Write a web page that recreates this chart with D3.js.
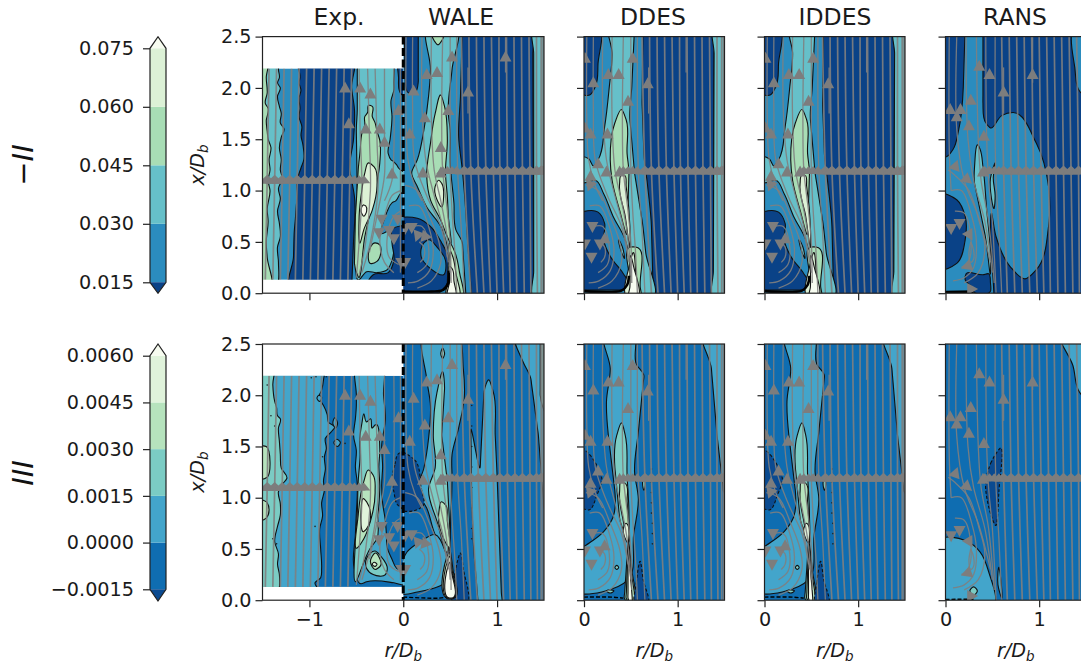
<!DOCTYPE html>
<html>
<head>
<meta charset="utf-8">
<script src="https://cdn.jsdelivr.net/npm/d3@7"></script>
<style>
  html, body { margin: 0; background: #fff; }
  svg { display: block; font-family: "DejaVu Sans", sans-serif; }
  .field { filter: blur(0.4px); }
</style>
</head>
<body>
<svg id="chart" width="1081" height="668"></svg>
<script>
// colour levels, index 0 is the "under" colour, last index the "over" colour
const coloursTop = ['#0a4287', '#2b8cbe', '#66c0c9', '#a8ddb5', '#dcf1d6', '#f7fcf0']
const coloursBottom = ['#0a4a90', '#0f6db1', '#43a5cb', '#7bccc4', '#b6e3bd', '#e0f3db', '#f7fcf0']
const levelsTop = [0.015, 0.03, 0.045, 0.06, 0.075]
const levelsBottom = [-0.0015, 0, 0.0015, 0.003, 0.0045, 0.006]
const tickLabelsTop = ['0.015', '0.030', '0.045', '0.060', '0.075']
const tickLabelsBottom = ['\u22120.0015', '0.0000', '0.0015', '0.0030', '0.0045', '0.0060']
const titles = ['Exp.', 'WALE', 'DDES', 'IDDES', 'RANS']
const xTicks = [0, 0.5, 1, 1.5, 2, 2.5]
const xTickLabels = ['0.0', '0.5', '1.0', '1.5', '2.0', '2.5']

// contour regions: [level, [[r, x], ...]]
const expTop = [
  [2, [[-1.6,2.3],[-1.31,2.3],[-1.33,2.18],[-1.32,2.1],[-1.34,2.05],[-1.31,2.0],[-1.34,1.92],[-1.32,1.82],[-1.3,1.75],[-1.31,1.66],[-1.27,1.6],[-1.3,1.52],[-1.32,1.42],[-1.3,1.3],[-1.31,1.2],[-1.29,1.12],[-1.33,1.02],[-1.31,.92],[-1.34,.8],[-1.32,.68],[-1.31,.55],[-1.34,.45],[-1.33,.3],[-1.36,.05],[-1.6,.05]]],
  [3, [[-1.6,2.3],[-1.44,2.3],[-1.46,2.1],[-1.45,1.95],[-1.47,1.85],[-1.44,1.8],[-1.46,1.68],[-1.45,1.58],[-1.44,1.5],[-1.41,1.42],[-1.43,1.3],[-1.42,1.2],[-1.44,1.1],[-1.42,1.0],[-1.45,.82],[-1.44,.7],[-1.46,.5],[-1.45,.35],[-1.42,.05],[-1.6,.05]]],
  [0, [[-1.12,2.3],[-1.1,2.1],[-1.11,2.05],[-1.09,1.98],[-1.11,1.9],[-1.1,1.8],[-1.11,1.72],[-1.08,1.62],[-1.09,1.54],[-1.07,1.45],[-1.06,1.3],[-1.09,1.22],[-1.12,1.14],[-1.135,1.07],[-1.13,.95],[-1.14,.85],[-1.15,.72],[-1.16,.62],[-1.17,.35],[-1.19,.05],[-.55,.05],[-.53,.5],[-.52,.94],[-.55,1.1],[-.57,1.2],[-.53,1.5],[-.52,1.79],[-.55,2.0],[-.55,2.3]]],
  [2, [[-.49,2.3],[-.49,1.79],[-.5,1.59],[-.49,.94],[-.5,.4],[-.47,.13],[-.39,.21],[-.28,.2],[-.17,.23],[-.12,.32],[-.1,.49],[-.12,.62],[-.23,.58],[-.19,.75],[-.17,.8],[-.12,.88],[-.08,.9],[-.03,.97],[.06,1.0],[.06,1.14],[-.05,1.22],[-.07,1.25],[-.1,1.28],[-.13,1.3],[-.16,1.36],[-.14,1.5],[-.12,1.72],[-.13,1.88],[-.1,1.98],[-.1,2.05],[-.12,2.3]]],
  [3, [[-.37,1.83],[-.38,1.76],[-.41,1.72],[-.41,1.64],[-.44,1.56],[-.46,1.38],[-.48,1.2],[-.51,.75],[-.52,.29],[-.48,.16],[-.41,.55],[-.33,.88],[-.25,1.27],[-.25,1.49],[-.28,1.58],[-.3,1.66],[-.33,1.72],[-.33,1.82]]],
  [4, [[-.37,1.27],[-.41,1.17],[-.44,1.01],[-.47,.75],[-.46,.49],[-.42,.62],[-.33,.81],[-.28,1.04],[-.31,1.23]]],
  [5, [[-.42,.86],[-.45,.8],[-.42,.75],[-.39,.8],[-.4,.85]]],
  [3, [[-.3,.49],[-.37,.39],[-.35,.29],[-.28,.31],[-.24,.39],[-.25,.47]]],
  [0, [[-.12,.62],[.05,.64],[.05,.05],[-.37,.05],[-.36,.14],[-.32,.18],[-.16,.2],[-.1,.32],[-.12,.49]]],
  [0, [[-.03,2.3],[.04,2.3],[.04,1.9],[-.03,1.95],[-.05,2.1]]]
]
const waleTop = [
  [0, [[.01,2.6],[.16,2.6],[.16,2.06],[.12,1.95],[.06,1.95],[.02,2.1]]],
  [2, [[.27,2.6],[.29,2.18],[.27,1.92],[.22,1.59],[.15,1.3],[.09,1.17],[.15,1.04],[.25,.84],[.4,.65],[.48,.42],[.6,-.05],[.67,-.05],[.63,.49],[.56,.62],[.54,.88],[.5,1.27],[.5,1.59],[.48,1.75],[.52,2.18],[.56,2.6]]],
  [3, [[.3,2.6],[.33,2.46],[.37,2.42],[.41,2.46],[.44,2.6]]],
  [0, [[.63,2.6],[.61,1.92],[.59,1.53],[.63,1.2],[.66,.88],[.69,.45],[.73,-.05],[1.39,-.05],[1.38,2.6]]],
  [2, [[1.39,2.6],[1.6,2.6],[1.6,-.05],[1.39,-.05]]],
  [3, [[.4,1.93],[.34,1.75],[.29,1.46],[.25,1.14],[.29,.91],[.4,.71],[.47,.55],[.5,.49],[.48,.75],[.47,.94],[.45,1.17],[.47,1.49],[.44,1.82]]],
  [4, [[.38,1.1],[.34,1.04],[.36,.91],[.41,.84],[.43,.94],[.41,1.07]]],
  [0, [[-.05,.71],[.15,.73],[.29,.65],[.41,.49],[.48,.36],[.49,.13],[.4,.015],[-.05,.015]]],
  [1, [[.22,.49],[.19,.36],[.29,.24],[.43,.18],[.45,.32],[.36,.45],[.27,.52]]],
  [3, [[.5,.49],[.48,.3],[.47,.1],[.47,-.05],[.62,-.05],[.6,.2],[.55,.4]]],
  [4, [[.51,.4],[.495,.2],[.48,-.05],[.58,-.05],[.56,.2],[.53,.35]]],
  [5, [[.5,.26],[.495,.12],[.48,-.05],[.55,-.05],[.54,.12],[.52,.24]]]
]
const ddesTop = [
  [0, [[.63,2.6],[.62,1.85],[.64,1.36],[.68,1.04],[.72,.65],[.74,-.05],[1.38,-.05],[1.39,2.6]]],
  [2, [[1.39,2.6],[1.6,2.6],[1.6,-.05],[1.38,-.05]]],
  [0, [[-.05,2.6],[.15,2.6],[.15,2.24],[.12,2.01],[.06,1.93],[-.05,1.96]]],
  [2, [[.27,2.6],[.3,2.34],[.27,2.01],[.22,1.62],[.15,1.3],[.1,1.24],[.05,1.31],[-.05,1.33],[-.05,1.07],[.03,1.08],[.12,1.1],[.21,.97],[.31,.75],[.44,.52],[.47,.42],[.49,.2],[.58,-.05],[.72,-.05],[.66,.39],[.62,.71],[.54,1.17],[.49,1.69],[.51,2.01],[.54,2.6]]],
  [3, [[.4,1.79],[.33,1.66],[.28,1.3],[.3,1.1],[.38,.81],[.46,.58],[.48,1.17],[.46,1.36],[.45,1.69]]],
  [4, [[.4,1.15],[.38,1.07],[.44,.75],[.49,.45],[.49,.65],[.45,1.04],[.43,1.15]]],
  [0, [[-.05,.76],[.15,.79],[.22,.68],[.21,.52],[.28,.36],[.42,.19],[.47,.11],[.44,.03],[-.05,.03]]],
  [2, [[.37,.52],[.4,.4],[.43,.34],[.41,.45]]],
  [3, [[.5,.45],[.55,.45],[.6,.06],[.61,-.05],[.47,-.05],[.48,.16]]],
  [4, [[.52,.39],[.56,.06],[.57,-.05],[.48,-.05],[.49,.29]]],
  [5, [[.5,.36],[.49,.06],[.48,-.05],[.55,-.05],[.53,.26]]]
]
const iddesTop = ddesTop
const ransTop = [
  [0, [[-.05,2.6],[.21,2.6],[.19,2.01],[.14,1.59],[.08,1.4],[.01,1.33],[-.05,1.33]]],
  [0, [[.4,2.6],[.4,1.85],[.43,1.66],[.48,1.61],[.6,1.73],[.72,1.76],[.97,1.46],[1.1,1.04],[1.1,.65],[.97,.23],[.85,.14],[.69,.26],[.54,.55],[.49,.78],[.48,.58],[.52,-.05],[1.6,-.05],[1.6,2.6]]],
  [1, [[1.4,2.6],[1.38,2.2],[1.45,1.95],[1.6,1.9],[1.6,2.6]]],
  [2, [[.35,1.44],[.31,1.23],[.31,1.07],[.42,.58],[.48,.19],[.48,.39],[.44,.81],[.4,1.23],[.37,1.4]]],
  [2, [[.53,1.27],[.48,1.12],[.52,.83],[.53,.95],[.51,1.12]]],
  [0, [[-.05,.96],[.12,.91],[.21,.75],[.21,.52],[.12,.29],[-.05,.24]]],
  [0, [[.22,.19],[.4,.18],[.46,.19],[.48,.1],[.48,.02],[.3,.015],[.28,.06],[.21,.13]]]
]
const expBottom = [
  [2, [[-1.6,2.3],[-.85,2.3],[-.85,2.15],[-.87,2.05],[-.9,1.98],[-.87,1.93],[-.85,1.9],[-.81,1.81],[-.8,1.74],[-.73,1.69],[-.77,1.64],[-.83,1.58],[-.82,1.48],[-.84,1.4],[-.83,1.28],[-.85,1.16],[-.84,1.08],[-.87,.95],[-.86,.82],[-.89,.7],[-.88,.5],[-.87,.31],[-.88,.22],[-.94,.17],[-.85,.05],[-1.6,.05]]],
  [3, [[-1.6,2.3],[-1.38,2.3],[-1.39,2.1],[-1.37,1.94],[-1.35,1.88],[-1.34,1.8],[-1.31,1.77],[-1.33,1.68],[-1.32,1.55],[-1.31,1.42],[-1.3,1.29],[-1.24,1.19],[-1.28,1.14],[-1.33,1.06],[-1.31,.94],[-1.31,.83],[-1.34,.72],[-1.37,.57],[-1.33,.45],[-1.34,.35],[-1.32,.25],[-1.35,.05],[-1.6,.05]]],
  [4, [[-1.6,1.48],[-1.46,1.5],[-1.42,1.35],[-1.45,1.2],[-1.6,1.18]]],
  [4, [[-1.6,.98],[-1.45,.95],[-1.43,.88],[-1.46,.8],[-1.6,.78]]],
  [2, [[-.49,2.3],[-.5,2.0],[-.5,1.9],[-.51,1.77],[-.53,1.61],[-.5,1.46],[-.51,1.3],[-.49,1.14],[-.49,1.03],[-.5,.85],[-.51,.64],[-.52,.3],[-.45,.16],[-.39,.18],[-.1,.17],[.02,.15],[.02,.28],[-.07,.31],[-.12,.4],[-.17,.51],[-.18,.65],[-.19,.77],[-.22,.95],[-.23,1.12],[-.22,1.3],[-.23,1.51],[-.19,1.77],[-.21,2.0],[-.23,2.3]]],
  [3, [[-.42,1.82],[-.44,1.73],[-.46,1.61],[-.46,1.4],[-.48,1.16],[-.49,.85],[-.51,.57],[-.51,.18],[-.35,.51],[-.28,.6],[-.27,.8],[-.25,1.12],[-.26,1.3],[-.25,1.48],[-.3,1.71],[-.33,1.68],[-.35,1.77],[-.39,1.74]]],
  [4, [[-.37,1.27],[-.42,1.16],[-.48,.83],[-.49,.51],[-.42,.6],[-.35,.77],[-.3,1.06],[-.32,1.22]]],
  [5, [[-.42,.99],[-.45,.86],[-.42,.67],[-.37,.73],[-.35,.86],[-.39,.96]]],
  [3, [[-.3,.48],[-.39,.41],[-.39,.31],[-.32,.25],[-.19,.25],[-.17,.3],[-.24,.43]]],
  [4, [[-.3,.46],[-.35,.38],[-.3,.3],[-.24,.34]]],
  [5, [[-.31,.37],[-.33,.35],[-.3,.33],[-.28,.35]]],
  [2, [[-.9,2.0],[-.92,1.97],[-.89,1.94],[-.87,1.98]]],
  [2, [[-.71,1.57],[-.74,1.54],[-.7,1.5],[-.67,1.54]]],
  [2, [[-.73,1.78],[-.75,1.72],[-.72,1.68],[-.7,1.73]]],
  [0, [[-.05,1.43],[-.09,1.32],[-.12,1.16],[-.1,1.06],[-.06,.93],[.05,.88],[.05,1.45]]]
]
const waleBottom = [
  [2, [[.23,2.6],[.25,2.16],[.29,1.9],[.27,1.58],[.22,1.29],[.15,1.06],[.25,.9],[.34,.64],[.45,.47],[.51,.9],[.52,1.19],[.52,1.42],[.59,1.68],[.65,1.97],[.64,2.26],[.57,2.6]]],
  [2, [[-.02,.34],[.04,.47],[.18,.57],[.34,.64],[.45,.47],[.47,.2],[.15,.08],[-.02,.06]]],
  [2, [[.72,1.66],[.82,1.3],[.86,2.03],[.91,2.15],[.96,2.03],[.98,1.61],[1.0,1.22],[1.05,-.05],[.8,-.05],[.75,.51],[.73,.96]]],
  [2, [[1.18,2.6],[1.28,2.32],[1.36,2.16],[1.44,1.61],[1.5,.9],[1.6,.85],[1.6,2.6]]],
  [3, [[1.46,2.6],[1.46,2.0],[1.6,1.7],[1.6,2.6]]],
  [3, [[.42,2.23],[.36,2.03],[.32,1.61],[.34,1.29],[.27,1.09],[.36,.77],[.47,.47],[.5,.64],[.47,1.16],[.41,1.61],[.44,2.06]]],
  [3, [[.42,2.46],[.4,2.4],[.42,2.36],[.44,2.4]]],
  [4, [[.41,.96],[.38,.86],[.43,.6],[.49,.51],[.47,.77],[.45,.93]]],
  [0, [[.61,.46],[.56,.31],[.57,-.05],[.65,-.05],[.64,.31]]],
  [0, [[-.05,1.44],[.12,1.37],[.19,1.1],[.21,.92],[.1,.87],[-.05,.9]]],
  [3, [[.49,.5],[.46,.02],[.54,.02],[.53,.3]]],
  [4, [[.495,.46],[.475,.02],[.53,.02],[.52,.3]]],
  [5, [[.5,.42],[.485,.02],[.52,.02],[.515,.3]]],
  [6, [[.503,.36],[.495,.02],[.512,.02],[.51,.3]]]
]
const ddesBottom = [
  [2, [[.22,2.6],[.28,2.26],[.24,1.94],[.26,1.61],[.33,1.06],[.31,.81],[.21,.67],[.06,.56],[-.05,.49],[-.05,.07],[.19,.08],[.47,.2],[.53,.64],[.58,.99],[.54,1.25],[.58,1.64],[.64,2.19],[.56,2.3],[.53,2.6]]],
  [2, [[1.27,2.6],[1.36,2.26],[1.42,1.61],[1.49,1.06],[1.6,1.0],[1.6,2.6]]],
  [3, [[.4,1.73],[.35,1.61],[.33,1.29],[.38,.8],[.44,.64],[.47,.57],[.48,.83],[.46,1.22],[.44,1.61]]],
  [4, [[.4,1.16],[.38,1.06],[.42,.77],[.47,.57],[.46,.96],[.44,1.14]]],
  [5, [[.45,.75],[.42,.7],[.47,.56],[.48,.67],[.47,.73]]],
  [3, [[.47,.56],[.43,.02],[.53,-.05],[.51,.3]]],
  [4, [[.47,.53],[.45,.02],[.52,-.05],[.5,.3]]],
  [6, [[.47,.5],[.47,.02],[.5,-.05],[.49,.3]]],
  [0, [[.6,.38],[.56,.18],[.56,-.05],[.67,-.05],[.63,.21]]],
  [0, [[-.05,1.5],[.06,1.42],[.15,1.29],[.19,1.19],[.14,1.03],[.05,.88],[-.05,.93]]],
  [3, [[.64,1.2],[.625,1.14],[.64,1.07],[.655,1.14]]],
  [3, [[.35,.34],[.33,.32],[.35,.3],[.37,.32]]],
  [3, [[.28,.1],[.24,.09],[.28,.07],[.32,.09]]]
]
const iddesBottom = ddesBottom
const ransBottom = [
  [2, [[-.05,.58],[.22,.58],[.37,.47],[.46,.28],[.49,-.05],[-.05,-.05]]],
  [2, [[1.22,2.6],[1.36,2.29],[1.43,2.03],[1.6,1.9],[1.6,2.6]]],
  [0, [[.58,1.48],[.49,1.35],[.43,1.16],[.54,.73],[.57,1.06]]],
  [3, [[.3,.13],[.26,.09],[.3,.05],[.34,.09]]],
  [2, [[.57,.32],[.56,.15],[.6,.02],[.59,.21]]]
]

// thick contours packed along the wall, as [[r, x], ...]
const wallsTop = [[], [[0,.015],[.3,.015],[.42,.03],[.48,.1],[.485,.22]], [[0,.02],[.4,.025],[.46,.08],[.48,.17]], [[0,.02],[.4,.025],[.46,.08],[.48,.17]], [[0,.01],[.3,.015]]]
const wallsBottom = [[], [[0,.03],[.38,.02],[.46,.03]], [[0,.03],[.3,.03],[.42,.02]], [[0,.03],[.3,.03],[.42,.02]], [[0,.008],[.3,.01]]]
const dotsExp = [[-.98,2.17],[-.93,2.18],[-.82,2.18],[-1.45,2.1],[-1.41,1.8],[-1.37,1.7],[-.62,1.53],[-.86,1.4],[-1.39,.6],[-.94,.72],[-1.35,.55]]
const dotsWale = [[.73,1.9],[.73,1.7],[.73,1.5],[.73,1.3],[.73,1.1],[.73,.9],[.73,.7],[.73,.6]]
const dotsDdes = [[.72,1.28],[.72,1.15],[.72,1.05],[.72,.95],[.72,.85],[.73,.75],[.73,.65],[.73,.55]]

// streamlines: straight ones as [r at top, r at middle, r at bottom]
const expLineX = [2.19, 1.11, 0.13]
const simLineX = [2.5, 1.2, 0]
const straightExp = [[-1.43,-1.45,-1.47],[-1.35,-1.37,-1.39],[-1.27,-1.29,-1.31],[-1.19,-1.21,-1.23],[-1.11,-1.13,-1.15],[-1.03,-1.05,-1.07],[-.95,-.97,-.99],[-.87,-.89,-.91],[-.79,-.81,-.83],[-.71,-.73,-.75],[-.63,-.65,-.67],[-.55,-.57,-.59]]
const straightSim = [[.62,.65,.72],[.7,.72,.79],[.78,.8,.86],[.86,.88,.93],[.94,.96,1.0],[1.02,1.03,1.07],[1.1,1.11,1.14],[1.18,1.19,1.21],[1.26,1.27,1.29],[1.34,1.35,1.36],[1.42,1.42,1.43],[1.47,1.47,1.47],[1.49,1.49,1.49]]
const straightRans = [[.6,.62,.66],[.68,.7,.74],[.76,.78,.82],[.84,.86,.9],[.92,.94,.98],[1.0,1.02,1.05],[1.08,1.1,1.12],[1.16,1.18,1.2],[1.24,1.26,1.28],[1.32,1.34,1.36],[1.4,1.42,1.43]]

// extra heads of the arrow band inside the jet, as r
const bandExp = [-.52, -.47, -.42]
const bandSim = [.42, .47, .52, .57]
const bandRans = [.42, .47, .52, .57]

// curved streamlines as [[r, x], ...]
const curvedExp = [
  [[-.47,2.19],[-.46,1.6],[-.44,1.0],[-.47,.5],[-.5,.15]],
  [[-.38,2.19],[-.36,1.5],[-.35,1.0],[-.4,.5],[-.47,.18]],
  [[-.3,2.19],[-.28,1.5],[-.27,1.0],[-.35,.5],[-.44,.2]],
  [[-.2,2.19],[-.2,1.5],[-.2,1.15],[-.27,.8],[-.36,.4]],
  [[-.1,2.19],[-.1,1.4],[-.12,1.1],[-.2,.9]],
  [[-.03,2.19],[-.03,1.1],[-.03,.2]],
  [[-.03,1.0],[-.12,.95],[-.2,.75],[-.25,.5],[-.2,.3],[-.1,.2]],
  [[-.03,.8],[-.1,.75],[-.17,.55],[-.15,.35],[-.05,.28]]
]
const curvedSim = [
  [[.03,2.5],[.03,1.7],[.05,1.3],[.12,1.05],[.2,.9]],
  [[.1,2.5],[.1,1.8],[.12,1.3],[.25,.95],[.4,.65],[.47,.35]],
  [[.2,2.5],[.2,1.8],[.24,1.3],[.33,.95],[.42,.65],[.48,.3]],
  [[.3,2.5],[.3,1.7],[.33,1.2],[.4,.9],[.46,.6],[.5,.2]],
  [[.42,2.5],[.41,1.7],[.42,1.2],[.47,.8],[.5,.5],[.51,.1]],
  [[.5,2.5],[.5,1.7],[.5,1.2],[.52,.8],[.55,.4],[.57,0]],
  [[.57,2.5],[.58,1.2],[.62,.6],[.65,0]],
  [[.02,1.05],[.15,1.0],[.28,.75],[.38,.5],[.4,.3],[.3,.12],[.15,.05]],
  [[.06,.85],[.17,.85],[.27,.65],[.32,.42],[.28,.22],[.16,.12],[.05,.1]],
  [[.1,.65],[.2,.65],[.27,.45],[.25,.28],[.15,.2]],
  [[.17,.5],[.22,.45],[.22,.35],[.18,.3]],
  [[.69,2.2],[.69,1.75]],
  [[1.09,2.5],[1.09,2.15]]
]
const curvedRans = [
  [[.04,2.5],[.04,1.4],[.06,1.0]],
  [[.12,2.5],[.12,1.6],[.2,1.1],[.35,.75],[.48,.3]],
  [[.22,2.5],[.24,1.5],[.3,1.1],[.42,.7],[.5,.2]],
  [[.33,2.5],[.35,1.5],[.38,1.1],[.46,.7],[.52,.1]],
  [[.43,2.5],[.44,1.5],[.46,1.1],[.5,.7],[.54,0]],
  [[.53,2.5],[.53,1.5],[.54,1.1],[.57,.6],[.6,0]],
  [[.03,1.2],[.1,1.15],[.25,1.0],[.36,.7],[.42,.45],[.35,.2],[.2,.1]],
  [[.06,1.0],[.17,1.0],[.28,.75],[.33,.5],[.3,.25],[.2,.15],[.08,.12]],
  [[.1,.8],[.2,.78],[.27,.55],[.25,.32],[.17,.25]],
  [[.27,.5],[.3,.42],[.3,.33],[.27,.3],[.25,.38],[.27,.5]],
  [[.62,2.2],[.62,1.75]],
  [[.93,2.5],[.93,2.05]]
]

// big arrow heads as [r, x, angle in degrees, 0 is pointing up]
const arrowsExp = [[-.62,2.01,0],[-.46,2.01,0],[-.35,1.95,0],[-.05,1.79,0],[-.58,1.66,0],[-.4,1.61,0],[-.25,1.61,0],[-.2,1.48,0],[-.12,1.17,0],[-.23,.71,180],[-.06,.71,180],[-.26,.58,180],[-.15,.6,180],[-.1,.52,180],[-.02,.29,180]]
const arrowsWale = [[1.09,2.31,0],[.69,1.97,0],[.52,2.31,0],[.36,2.16,0],[.25,2.14,0],[.11,1.98,0],[.48,1.79,0],[.23,1.72,0],[.07,1.56,0],[.4,1.43,0],[.4,1.18,0],[.21,1.18,0],[.09,.63,180],[.15,.55,200],[.22,.54,220],[.02,.29,180],[.02,.62,180]]
const arrowsDdes = [[.68,2.05,0],[.52,2.3,0],[.37,2.14,0],[.26,2.14,0],[.1,2.06,0],[.47,1.88,0],[.01,2.3,0],[.07,1.56,0],[.25,1.56,0],[.01,1.62,0],[.15,1.27,0],[.24,1.19,0],[.38,1.19,0],[.07,1.15,0],[.06,1.04,200],[.09,.64,180],[.08,.34,180],[.01,.47,180],[.17,.47,180],[.22,.54,0]]
const arrowsRans = [[.93,2.14,0],[.62,1.97,0],[.47,2.14,0],[.36,2.22,0],[.27,1.89,0],[.16,1.8,0],[.05,1.8,0],[.12,1.73,0],[.25,1.64,0],[.41,1.54,0],[.11,1.25,20],[.4,1.19,0],[.24,1.1,130],[.06,.62,180],[.15,.67,180],[.26,.56,150],[.22,.26,250],[.29,.04,90]]

const svg = d3.select('#chart')
const defs = svg.append('defs')
const xCols = [
  d3.scaleLinear().domain([-1.5, 1.5]).range([262.5, 544]),
  d3.scaleLinear().domain([0, 1.5]).range([584, 724.5]),
  d3.scaleLinear().domain([0, 1.5]).range([764.5, 905]),
  d3.scaleLinear().domain([0, 1.5]).range([945.5, 1086])
]
const yTop = d3.scaleLinear().domain([0, 2.5]).range([293.2, 36.6])
const yBottom = d3.scaleLinear().domain([0, 2.5]).range([600.2, 344])
const fontSize = 19.2
const closed = d3.curveCatmullRomClosed.alpha(1)
let clipId = 0

function addClip(x0, x1, y0, y1) {
  const id = 'clip' + (clipId++)
  defs.append('clipPath').attr('id', id).append('rect')
    .attr('x', x0).attr('y', y0).attr('width', x1 - x0).attr('height', y1 - y0)
  return 'url(#' + id + ')'
}

function drawArrow(g, px, py, angle, w, h) {
  g.append('path').attr('d', `M0,${-h / 2}L${w / 2},${h / 2}L${-w / 2},${h / 2}Z`)
    .attr('transform', `translate(${px},${py}) rotate(${angle})`)
    .attr('fill', '#7d7d7d')
}

// long edges bulge under the closed spline, pin them near their ends
function stiffen(points) {
  const out = []
  points.forEach((p, i) => {
    const q = points[(i + 1) % points.length]
    out.push(p)
    if (Math.hypot(q[0] - p[0], q[1] - p[1]) > 0.45) {
      out.push([p[0] + (q[0] - p[0]) * 0.1, p[1] + (q[1] - p[1]) * 0.1])
      out.push([p[0] + (q[0] - p[0]) * 0.9, p[1] + (q[1] - p[1]) * 0.9])
    }
  })
  return out
}

// one rectangle of contours and streamlines
function drawField(opt) {
  const {x, y, rLim, xLim, colours, regions, wall, negDash, straight, lineX, curved, arrows, dots, band} = opt
  const g = svg.append('g').attr('class', 'field')
    .attr('clip-path', addClip(x(rLim[0]), x(rLim[1]), y(xLim[1]), y(xLim[0])))
  const shape = d3.line().x(d => x(d[0])).y(d => y(d[1])).curve(closed)
  const open = d3.line().x(d => x(d[0])).y(d => y(d[1])).curve(d3.curveCatmullRom.alpha(0.5))

  g.append('rect').attr('x', x(rLim[0])).attr('width', x(rLim[1]) - x(rLim[0]))
    .attr('y', y(xLim[1])).attr('height', y(xLim[0]) - y(xLim[1]))
    .attr('fill', colours[1])

  g.selectAll('path.region').data(regions).join('path').attr('class', 'region')
    .attr('d', d => shape(stiffen(d[1])))
    .attr('fill', d => colours[d[0]])
    .attr('stroke', '#111')
    .attr('stroke-width', 1.1)
    .attr('stroke-dasharray', d => (negDash && d[0] === 0) ? '3,2' : null)

  if (wall.length) {
    g.append('path').attr('d', open(wall)).attr('fill', 'none').attr('stroke', '#000')
      .attr('stroke-width', negDash ? 1.4 : 2.6)
      .attr('stroke-dasharray', negDash ? '4,2' : null)
  }
  g.selectAll('circle.dot').data(dots || []).join('circle').attr('class', 'dot')
    .attr('cx', d => x(d[0])).attr('cy', d => y(d[1])).attr('r', 0.8).attr('fill', '#222')

  const lineG = g.append('g').attr('fill', 'none').attr('stroke', '#808080')
    .attr('stroke-opacity', 0.9)
  straight.forEach(s => {
    lineG.append('path').attr('stroke-width', 1.7).attr('d', open(s.map((r, i) => [r, lineX[i]])))
  })
  curved.forEach(c => lineG.append('path').attr('stroke-width', 1.3).attr('d', open(c)))

  // dense arrow heads where the streamlines cross their mid height
  straight.forEach(s => drawArrow(g, x(s[1]), y(lineX[1]), 0, 19, 9))
  band.forEach(r => drawArrow(g, x(r), y(lineX[1]), 0, 13, 8))
  arrows.forEach(a => drawArrow(g, x(a[0]), y(a[1]), a[2], 12, 11))
}

function drawRow(y, colours, exp, wale, ddes, iddes, rans, walls, negDash, showX) {
  const common = {y, colours, negDash}
  drawField({...common, x: xCols[0], rLim: [-1.5, 0], xLim: [.13, 2.19], regions: exp, wall: [], straight: straightExp, lineX: expLineX, curved: curvedExp, arrows: arrowsExp, band: bandExp, dots: negDash ? dotsExp : []})
  drawField({...common, x: xCols[0], rLim: [0, 1.5], xLim: [0, 2.5], regions: wale, wall: walls[1], straight: straightSim, lineX: simLineX, curved: curvedSim, arrows: arrowsWale, band: bandSim, dots: negDash ? dotsWale : []})
  drawField({...common, x: xCols[1], rLim: [0, 1.5], xLim: [0, 2.5], regions: ddes, wall: walls[2], straight: straightSim, lineX: simLineX, curved: curvedSim, arrows: arrowsDdes, band: bandSim, dots: negDash ? dotsDdes : []})
  drawField({...common, x: xCols[2], rLim: [0, 1.5], xLim: [0, 2.5], regions: iddes, wall: walls[3], straight: straightSim, lineX: simLineX, curved: curvedSim, arrows: arrowsDdes, band: bandSim, dots: negDash ? dotsDdes : []})
  drawField({...common, x: xCols[3], rLim: [0, 1.5], xLim: [0, 2.5], regions: rans, wall: walls[4], straight: straightRans, lineX: simLineX, curved: curvedRans, arrows: arrowsRans, band: bandRans})

  // the dashed symmetry line between experiment and WALE
  svg.append('line').attr('x1', xCols[0](0)).attr('x2', xCols[0](0))
    .attr('y1', y(2.5)).attr('y2', y(0))
    .attr('stroke', '#000').attr('stroke-width', 3).attr('stroke-dasharray', '8,3.5')

  xCols.forEach((x, i) => {
    svg.append('rect').attr('x', x.range()[0]).attr('y', y(2.5))
      .attr('width', x.range()[1] - x.range()[0]).attr('height', y(0) - y(2.5))
      .attr('fill', 'none').attr('stroke', '#222').attr('stroke-width', 1.2)

    const yAxis = d3.axisLeft(y).tickValues(xTicks).tickSize(7).tickPadding(4)
      .tickFormat((d, k) => i === 0 ? xTickLabels[k] : '')
    const yg = svg.append('g').attr('transform', `translate(${x.range()[0]},0)`).call(yAxis)
    const xAxis = d3.axisBottom(x).tickValues(i === 0 ? [-1, 0, 1] : [0, 1]).tickSize(7).tickPadding(5)
      .tickFormat(d => showX ? (d < 0 ? '\u2212' + (-d) : d) : '')
    const xg = svg.append('g').attr('transform', `translate(0,${y(0)})`).call(xAxis)
    ;[yg, xg].forEach(a => {
      a.select('.domain').remove()
      a.selectAll('line').attr('stroke', '#222').attr('stroke-width', 1.2)
      a.selectAll('text').attr('font-size', fontSize).attr('font-family', '"DejaVu Sans"').attr('fill', '#1a1a1a')
    })
  })

  // x/D_b on the first panel
  const yl = svg.append('text').attr('transform', `translate(204,${(y(0) + y(2.5)) / 2}) rotate(-90)`)
    .attr('text-anchor', 'middle').attr('font-size', fontSize).attr('fill', '#1a1a1a')
  yl.append('tspan').attr('font-style', 'italic').text('x/D')
  yl.append('tspan').attr('font-style', 'italic').attr('font-size', 13.5).attr('dy', 4).text('b')

  if (showX) {
    xCols.forEach((x, i) => {
      const mid = i === 0 ? x(0) : (x.range()[0] + x.range()[1]) / 2
      const t = svg.append('text').attr('x', mid).attr('y', 657).attr('text-anchor', 'middle')
        .attr('font-size', fontSize).attr('fill', '#1a1a1a')
      t.append('tspan').attr('font-style', 'italic').text('r/D')
      t.append('tspan').attr('font-style', 'italic').attr('font-size', 13.5).attr('dy', 4).text('b')
    })
  }
}

function drawColorbar(levels, labels, colours, yRange, tips) {
  const cx0 = 150, cx1 = 166
  const s = d3.scaleLinear().domain([levels[0], levels[levels.length - 1]]).range(yRange)
  const g = svg.append('g')
  d3.pairs(levels).forEach((p, i) => {
    g.append('rect').attr('x', cx0).attr('width', cx1 - cx0)
      .attr('y', s(p[1])).attr('height', s(p[0]) - s(p[1])).attr('fill', colours[i + 1])
  })
  const xm = (cx0 + cx1) / 2
  g.append('path').attr('d', `M${cx0},${yRange[0]}L${xm},${tips[0]}L${cx1},${yRange[0]}Z`).attr('fill', colours[0])
  g.append('path').attr('d', `M${cx0},${yRange[1]}L${xm},${tips[1]}L${cx1},${yRange[1]}Z`).attr('fill', colours[colours.length - 1])
  g.append('path').attr('d', `M${cx0},${yRange[0]}L${xm},${tips[0]}L${cx1},${yRange[0]}L${cx1},${yRange[1]}L${xm},${tips[1]}L${cx0},${yRange[1]}Z`)
    .attr('fill', 'none').attr('stroke', '#222').attr('stroke-width', 1.2)
  const ax = svg.append('g').attr('transform', `translate(${cx0},0)`)
    .call(d3.axisLeft(s).tickValues(levels).tickSize(7).tickPadding(9).tickFormat((d, i) => labels[i]))
  ax.select('.domain').remove()
  ax.selectAll('line').attr('stroke', '#222').attr('stroke-width', 1.2)
  ax.selectAll('text').attr('font-size', fontSize).attr('font-family', '"DejaVu Sans"').attr('fill', '#1a1a1a')
}

drawRow(yTop, coloursTop, expTop, waleTop, ddesTop, iddesTop, ransTop, wallsTop, false, false)
drawRow(yBottom, coloursBottom, expBottom, waleBottom, ddesBottom, iddesBottom, ransBottom, wallsBottom, true, true)

drawColorbar(levelsTop, tickLabelsTop, coloursTop, [282.3, 48.3], [293.3, 36.7])
drawColorbar(levelsBottom, tickLabelsBottom, coloursBottom, [589.3, 355.7], [601, 344])

// titles above the panels
const titleX = [339, 461, 653, 835, 1015]
titles.forEach((t, i) => {
  svg.append('text').attr('x', titleX[i]).attr('y', 25).attr('text-anchor', 'middle')
    .attr('font-size', 23.5).attr('fill', '#1a1a1a').text(t)
})

// row labels
const rowLabels = [['\u2212II', 165], ['III', 473]]
rowLabels.forEach(d => {
  svg.append('text').attr('transform', `translate(33,${d[1]}) rotate(-90)`)
    .attr('text-anchor', 'middle').attr('font-size', 29).attr('font-style', 'italic').attr('fill', '#111').text(d[0])
})
</script>
</body>
</html>
